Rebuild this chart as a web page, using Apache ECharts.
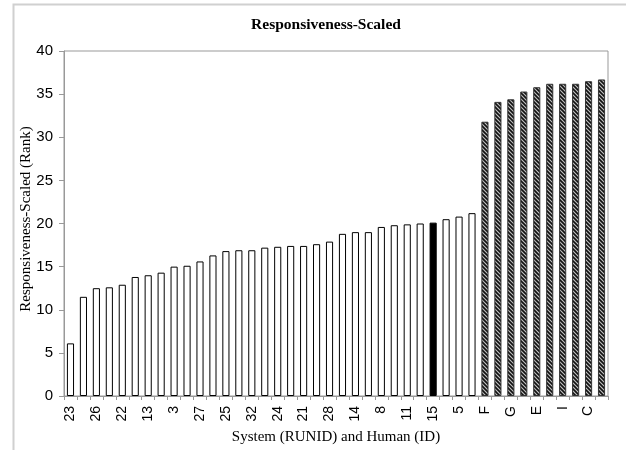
<!DOCTYPE html>
<html>
<head>
<meta charset="utf-8">
<script src="https://cdn.jsdelivr.net/npm/echarts@6/dist/echarts.min.js"></script>
<style>html,body{margin:0;padding:0;background:#fff}#c{width:626px;height:450px}</style>
</head>
<body>
<div id="c"></div>
<script>
// System runs (RUNID), sorted ascending
const systemIds = ['23','1','26','2','22','4','13','6','3','7','27','9','25','10','32','12','24','16','21','17','28','18','14','19','8','20','11','29','15','30','5','31'];
const systemValues = [6.1, 11.5, 12.5, 12.6, 12.9, 13.8, 14.0, 14.3, 15.0, 15.1, 15.6, 16.3, 16.8, 16.9, 16.9, 17.2, 17.3, 17.4, 17.4, 17.6, 17.9, 18.8, 19.0, 19.0, 19.6, 19.8, 19.9, 20.0, 20.1, 20.5, 20.8, 21.2];
// Humans (ID)
const humanIds = ['F','A','G','B','E','D','I','H','C','J'];
const humanValues = [31.8, 34.1, 34.4, 35.3, 35.8, 36.2, 36.2, 36.2, 36.5, 36.7];
const highlightId = '15';
const yTicks = [0, 5, 10, 15, 20, 25, 30, 35, 40];

const categories = systemIds.concat(humanIds);

// hatch pattern
const pc = document.createElement('canvas');
pc.width = 4; pc.height = 4;
const g = pc.getContext('2d');
g.fillStyle = '#c0c0c0'; g.fillRect(0,0,4,4);
g.strokeStyle = '#111'; g.lineWidth = 1.6;
g.beginPath(); g.moveTo(-1,-1); g.lineTo(5,5); g.moveTo(-1,3); g.lineTo(1,5); g.moveTo(3,-1); g.lineTo(5,1); g.stroke();

const data = [];
systemIds.forEach((id, i) => {
  data.push({value: systemValues[i], itemStyle: {color: id === highlightId ? '#000' : '#fff', borderColor: '#000', borderWidth: 1}});
});
humanIds.forEach((id, i) => {
  data.push({value: humanValues[i], itemStyle: {color: {image: pc, repeat: 'repeat'}, borderColor: '#333', borderWidth: 1}});
});

const chart = echarts.init(document.getElementById('c'), null, {renderer: 'canvas'});
chart.setOption({
  animation: false,
  backgroundColor: '#fff',
  graphic: [
    {type: 'rect', shape: {x: 13.5, y: 4.5, width: 620, height: 460}, style: {fill: 'none', stroke: '#d0d0d0', lineWidth: 2}, silent: true},
    {type: 'text', x: 326, y: 17, style: {text: 'Responsiveness-Scaled', font: 'bold 15.5px "Liberation Serif"', fill: '#000', align: 'center'}},
    {type: 'text', x: 26, y: 219, rotation: Math.PI / 2, style: {text: 'Responsiveness-Scaled (Rank)', font: '15px "Liberation Serif"', fill: '#000', align: 'center', verticalAlign: 'middle'}}
  ],
  grid: {left: 64, right: 18, top: 51, bottom: 49, show: true, borderColor: '#999', borderWidth: 1},
  xAxis: {
    type: 'category',
    data: categories,
    name: 'System (RUNID) and Human (ID)',
    nameLocation: 'middle',
    nameGap: 34,
    nameTextStyle: {fontFamily: 'Liberation Serif', fontSize: 15, color: '#000'},
    axisLine: {lineStyle: {color: '#999'}},
    axisTick: {show: true, interval: 0, alignWithLabel: false, length: 4, lineStyle: {color: '#999'}},
    axisLabel: {interval: 1, rotate: 90, fontFamily: 'Liberation Sans', fontSize: 14, color: '#000', margin: 10}
  },
  yAxis: {
    type: 'value',
    min: 0, max: 40, interval: 5,
    axisLine: {show: true, lineStyle: {color: '#999'}},
    axisTick: {show: true, length: 5, lineStyle: {color: '#999'}},
    splitLine: {show: false},
    axisLabel: {fontFamily: 'Liberation Sans', fontSize: 15, color: '#000', margin: 11,
      formatter: v => yTicks.includes(v) ? String(v) : ''}
  },
  series: [{
    type: 'bar',
    data: data,
    barCategoryGap: '45%'
  }]
});
</script>
</body>
</html>
